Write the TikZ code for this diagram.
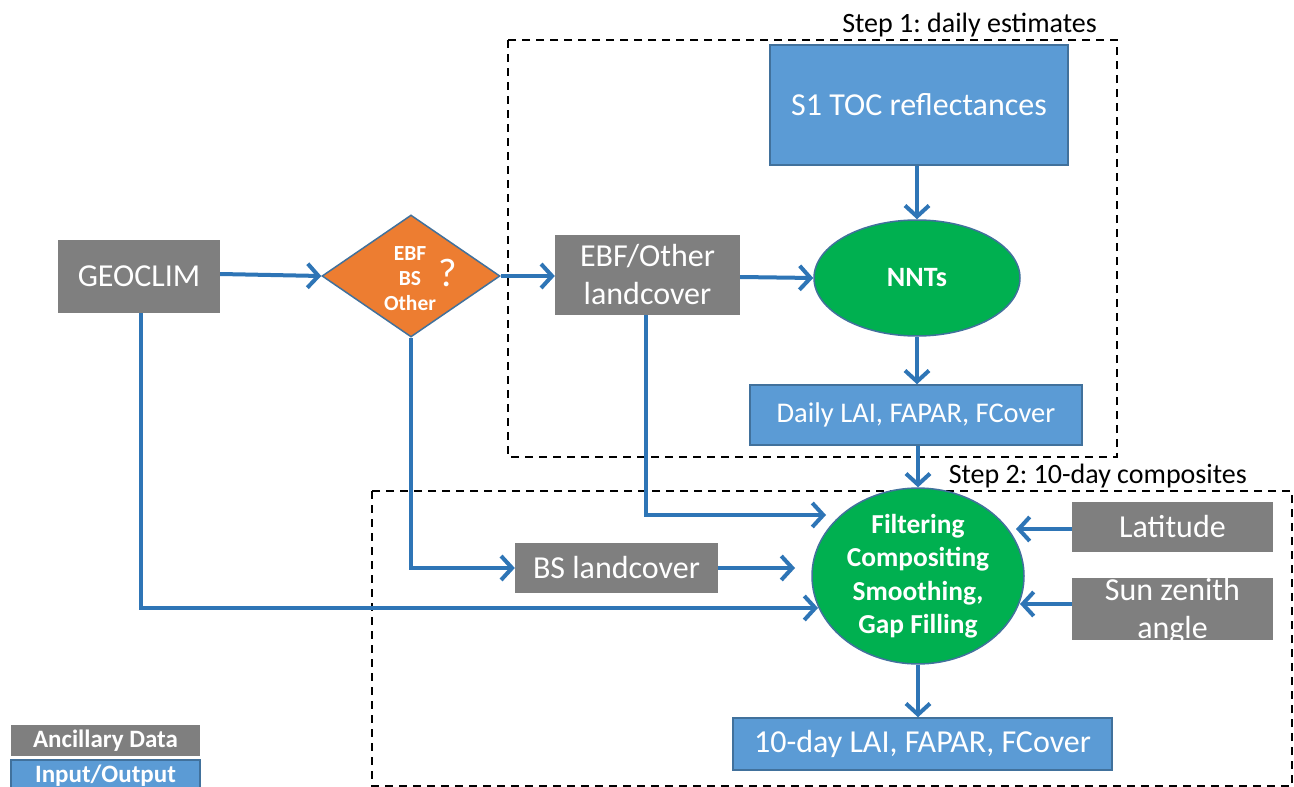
\documentclass[tikz,border=0pt]{standalone}
\usepackage{fontspec}
\setmainfont{Carlito}
\usetikzlibrary{arrows.meta,shapes.geometric}
\definecolor{ancgray}{HTML}{7F7F7F}
\definecolor{iofill}{HTML}{5B9BD5}
\definecolor{ioborder}{HTML}{41719C}
\definecolor{decorange}{HTML}{ED7D31}
\definecolor{procgreen}{HTML}{00B050}
\definecolor{arrowblue}{HTML}{2E75B6}
\frenchspacing
\begin{document}
\begin{tikzpicture}[x=1pt,y=-1pt,
  ancbox/.style={rectangle, fill=ancgray, draw=none, text=white, inner sep=0pt, align=center},
  iobox/.style={rectangle, fill=iofill, draw=ioborder, line width=1.5pt, text=white, inner sep=0pt, align=center},
  procell/.style={ellipse, fill=procgreen, draw=ioborder, line width=1.5pt, text=white, inner sep=0pt, align=center},
  bigtxt/.style={font=\fontsize{32}{38}\selectfont},
  flow/.style={draw=arrowblue, line width=4pt, -{Straight Barb[length=11pt,width=24pt]}},
  stepframe/.style={draw=black, line width=2pt, dash pattern=on 8pt off 6pt},
  steplabel/.style={font=\fontsize{28}{33}\selectfont, inner sep=0pt}]
\useasboundingbox (0,0) rectangle (1294,787);
\fill[white] (0,0) rectangle (1294,787);

% frames
\draw[stepframe] (508,40) rectangle (1117,457);
\draw[stepframe] (372,491) rectangle (1292,786);
\node[steplabel, anchor=south east] (s1lab) at (1097,37) {Step 1: daily estimates};
\node[steplabel, anchor=south east] (s2lab) at (1247,488) {Step 2: 10-day composites};

% nodes
\node[ancbox, bigtxt, minimum width=162pt, minimum height=73pt] (geo) at (139,276.5) {GEOCLIM};
\node[diamond, fill=decorange, draw=ioborder, line width=1.5pt, inner sep=0pt, minimum width=178pt, minimum height=122pt] (dia) at (411,276) {};
\node[text=white, align=center, font=\bfseries\fontsize{21.5}{25}\selectfont, inner sep=0pt] (diatxt) at (410,279) {EBF\\BS\\Other};
\node[text=white, font=\fontsize{40}{44}\selectfont, inner sep=0pt] (q) at (448,273) {?};
\node[ancbox, bigtxt, minimum width=185pt, minimum height=80pt] (ebf) at (647.5,275) {EBF/Other\\landcover};
\node[iobox, bigtxt, minimum width=298pt, minimum height=120pt] (s1) at (919,105) {S1 TOC reflectances};
\node[procell, minimum width=206pt, minimum height=116pt, font=\bfseries\fontsize{28}{33}\selectfont] (nnt) at (917,278) {NNTs};
\node[iobox, minimum width=332pt, minimum height=60pt, font=\fontsize{28.5}{34}\selectfont] (daily) at (916,415) {Daily LAI, FAPAR, FCover};
\node[procell, minimum width=212pt, minimum height=158pt, font=\bfseries\fontsize{27.4}{33.5}\selectfont] (comp) at (918,576) {Filtering\\Compositing\\Smoothing,\\Gap Filling};
\node[ancbox, bigtxt, minimum width=201pt, minimum height=50pt] (lat) at (1172.5,527) {Latitude};
\node[ancbox, minimum width=201pt, minimum height=62pt] (sun) at (1172.5,609) {};
\node[text=white, align=center, bigtxt, inner sep=0pt] (suntxt) at (1172.5,611) {Sun zenith\\angle};
\node[ancbox, bigtxt, minimum width=203pt, minimum height=50pt] (bs) at (616.5,568) {BS landcover};
\node[iobox, bigtxt, minimum width=379pt, minimum height=52pt] (ten) at (922.5,744) {10-day LAI, FAPAR, FCover};

% legend
\node[ancbox, minimum width=189pt, minimum height=31pt, font=\bfseries\fontsize{25}{28}\selectfont] (leganc) at (105.5,740.5) {Ancillary Data};
\node[iobox, minimum width=189pt, minimum height=32pt, font=\bfseries\fontsize{25}{28}\selectfont] (legio) at (105.5,776) {Input/Output};

% free ends
\coordinate (ebfcorner) at (646,515);
\coordinate (ebfend) at (826,515);
\coordinate (diacorner) at (dia.south |- bs.west);
\coordinate (bsend) at (795,568);
\coordinate (geocorner) at (141,608);
\coordinate (geoend) at (818,608);
\coordinate (latend) at (1016,529);
\coordinate (sunend) at (1020,604);

% connectors
\draw[flow] (geo.east |- 0,274) -- (dia.west);
\draw[flow] (dia.east) -- (ebf.west |- dia.east);
\draw[flow] (ebf.east |- 0,277) -- (nnt.west);
\draw[flow] (s1.south -| nnt.north) -- (nnt.north);
\draw[flow] (nnt.south) -- (daily.north -| nnt.south);
\draw[flow] (daily.south -| comp.north) -- (comp.north);
\draw[flow] (ebf.south -| ebfcorner) -- (ebfcorner) -- (ebfend);
\draw[flow] (dia.south) -- (diacorner) -- (bs.west);
\draw[flow] (bs.east) -- (bsend);
\draw[flow] (geo.south -| geocorner) -- (geocorner) -- (geoend);
\draw[flow] (lat.west |- latend) -- (latend);
\draw[flow] (sun.west |- sunend) -- (sunend);
\draw[flow] (comp.south) -- (ten.north -| comp.south);
\end{tikzpicture}
\end{document}
